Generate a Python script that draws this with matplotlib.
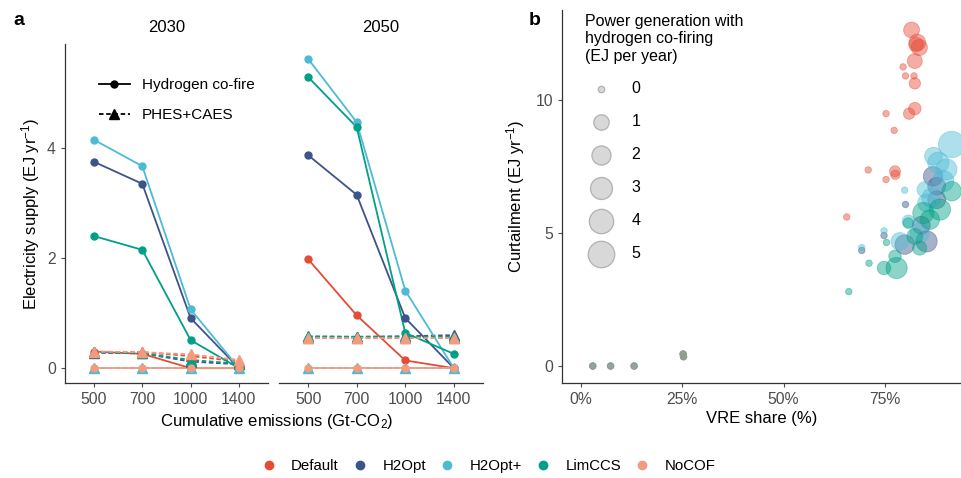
import matplotlib
matplotlib.use("Agg")
import matplotlib.pyplot as plt
from matplotlib.lines import Line2D
import numpy as np

plt.rcParams["font.family"] = ["Liberation Sans", "DejaVu Sans"]
plt.rcParams["mathtext.default"] = "regular"

SCENARIOS = ["Default", "H2Opt", "H2Opt+", "LimCCS", "NoCOF"]
COLORS = {
    "Default": "#E64B35",
    "H2Opt": "#3C5488",
    "H2Opt+": "#4DBBD5",
    "LimCCS": "#00A087",
    "NoCOF": "#F39B7F",
}

EMISSIONS = ["500", "700", "1000", "1400"]

# panel a: electricity supply (EJ/yr)
cofire_2030 = {
    "Default": [0.30, 0.26, 0.0, 0.0],
    "H2Opt": [3.75, 3.35, 0.91, 0.0],
    "H2Opt+": [4.15, 3.67, 1.07, 0.0],
    "LimCCS": [2.40, 2.15, 0.51, 0.0],
    "NoCOF": [0.0, 0.0, 0.0, 0.0],
}
phes_2030 = {
    "Default": [0.30, 0.29, 0.22, 0.12],
    "H2Opt": [0.28, 0.27, 0.12, 0.07],
    "H2Opt+": [0.0, 0.0, 0.0, 0.0],
    "LimCCS": [0.29, 0.27, 0.15, 0.08],
    "NoCOF": [0.30, 0.29, 0.25, 0.15],
}
cofire_2050 = {
    "Default": [1.98, 0.96, 0.14, 0.0],
    "H2Opt": [3.87, 3.15, 0.91, 0.0],
    "H2Opt+": [5.62, 4.47, 1.41, 0.0],
    "LimCCS": [5.29, 4.38, 0.64, 0.26],
    "NoCOF": [0.0, 0.0, 0.0, 0.0],
}
phes_2050 = {
    "Default": [0.55, 0.55, 0.55, 0.55],
    "H2Opt": [0.57, 0.57, 0.58, 0.60],
    "H2Opt+": [0.0, 0.0, 0.0, 0.0],
    "LimCCS": [0.58, 0.57, 0.57, 0.57],
    "NoCOF": [0.55, 0.55, 0.55, 0.55],
}

# panel b: base-year points shared by all scenarios
base_vre = [2.9, 7.3, 13.1, 25.2, 25.3]
base_curt = [0.0, 0.0, 0.0, 0.45, 0.35]

vre = {
    "Default": [81.6, 83.0, 83.5, 82.7, 82.4, 79.5, 80.1, 82.2, 82.4, 82.4, 81.0, 77.5, 77.6,
                75.3, 77.3, 70.9, 75.3, 65.6],
    "H2Opt": [86.9, 87.8, 87.8, 80.1, 74.8, 79.9, 85.3, 69.3, 84.0],
    "H2Opt+": [91.5, 88.2, 90.2, 89.4, 86.5, 84.9, 85.3, 79.9, 80.8, 74.8, 78.7, 83.6, 69.3, 87.0],
    "LimCCS": [91.5, 88.6, 84.5, 86.1, 80.8, 75.4, 82.4, 83.6, 71.1, 74.8, 77.9, 77.5, 66.1],
    "NoCOF": [],
}
curtail = {
    "Default": [12.65, 12.18, 11.99, 12.10, 11.48, 11.26, 10.92, 10.92, 10.64, 9.69, 9.50, 7.33, 7.20,
                9.50, 8.87, 7.38, 7.02, 5.61],
    "H2Opt": [7.14, 6.77, 6.26, 6.08, 4.91, 4.57, 4.69, 4.35, 5.30],
    "H2Opt+": [8.34, 7.65, 7.40, 6.96, 6.33, 6.64, 6.14, 6.62, 5.45, 5.09, 4.69, 5.01, 4.46, 7.90],
    "LimCCS": [6.58, 5.89, 5.76, 5.51, 5.38, 4.65, 4.88, 4.44, 3.87, 3.69, 3.69, 4.13, 2.80],
    "NoCOF": [],
}
h2_gen = {
    "Default": [1.1, 1.3, 1.2, 0.8, 0.9, 0.0, 0.0, 0.0, 0.3, 0.45, 0.3, 0.25, 0.1,
                0.0, 0.0, 0.0, 0.0, 0.0],
    "H2Opt": [2.1, 1.6, 1.6, 0.0, 0.0, 2.1, 2.7, 0.0, 1.6],
    "H2Opt+": [5.0, 2.7, 2.7, 2.7, 2.1, 1.1, 1.6, 0.0, 0.45, 0.0, 1.6, 2.1, 0.0, 1.6],
    "LimCCS": [2.1, 2.7, 2.7, 2.1, 0.22, 0.0, 1.1, 0.74, 0.0, 0.62, 2.7, 0.45, 0.0],
    "NoCOF": [],
}
SIZE_BREAKS = [0, 1, 2, 3, 4, 5]


def bubble(v):
    d_px = 6.5 + 20 * np.sqrt(np.asarray(v, dtype=float) / 5)
    return (d_px * 0.72) ** 2


fig = plt.figure(figsize=(9.61, 4.78), dpi=100)
fig.patch.set_facecolor("white")

ax30 = fig.add_axes([0.0676, 0.1987, 0.2112, 0.7092])
ax50 = fig.add_axes([0.2903, 0.1987, 0.2123, 0.7092])
axb = fig.add_axes([0.5848, 0.1987, 0.4152, 0.7803])

xpos = np.arange(1, len(EMISSIONS) + 1)
for ax, cof, phes, year in [(ax30, cofire_2030, phes_2030, "2030"),
                            (ax50, cofire_2050, phes_2050, "2050")]:
    for s in SCENARIOS:
        ax.plot(xpos, phes[s], color=COLORS[s], lw=1.3, ls=(0, (2.5, 1.5)), zorder=2)
        ax.plot(xpos, cof[s], color=COLORS[s], lw=1.3, zorder=2)
    for s in SCENARIOS:
        ax.plot(xpos, phes[s], ls="none", marker="^", ms=6.5, color=COLORS[s], zorder=3)
        ax.plot(xpos, cof[s], ls="none", marker="o", ms=5, color=COLORS[s], zorder=3)
    ax.set_xlim(0.4, 4.6)
    ax.set_ylim(-0.27, 5.89)
    ax.set_xticks(xpos)
    ax.set_xticklabels(EMISSIONS)
    ax.set_title(year, fontsize=12, pad=9)
    for sp in ("top", "right"):
        ax.spines[sp].set_visible(False)

ax30.set_yticks([0, 2, 4])
ax50.set_yticks([])
ax50.spines["left"].set_visible(False)
ax30.set_ylabel("Electricity supply (EJ yr$^{-1}$)", fontsize=12, labelpad=4)
fig.text(0.2878, 0.118, "Cumulative emissions (Gt-CO$_2$)", ha="center", va="center", fontsize=12)

style_handles = [
    Line2D([], [], color="black", lw=1.3, marker="o", ms=5),
    Line2D([], [], color="black", lw=1.3, ls=(0, (2.5, 1.5)), marker="^", ms=6.5),
]
ax30.legend(style_handles, ["Hydrogen co-fire", "PHES+CAES"], loc="upper left",
            bbox_to_anchor=(0.1, 0.94), frameon=False, fontsize=11,
            handlelength=2.0, handletextpad=0.8, labelspacing=1.05)

# panel b
for s in SCENARIOS:
    axb.scatter(base_vre, base_curt, s=bubble(np.zeros(len(base_vre))), color=COLORS[s],
                alpha=0.3, linewidths=0.6, zorder=2)
for s in SCENARIOS:
    if vre[s]:
        axb.scatter(vre[s], curtail[s], s=bubble(h2_gen[s]), color=COLORS[s],
                    alpha=0.45, linewidths=0.6, zorder=3)

axb.set_xlim(-4.7, 93.8)
axb.set_ylim(-0.64, 13.4)
axb.set_xticks([0, 25, 50, 75])
axb.set_xticklabels(["0%", "25%", "50%", "75%"])
axb.set_yticks([0, 5, 10])
axb.set_xlabel("VRE share (%)", fontsize=12, labelpad=3)
axb.set_ylabel("Curtailment (EJ yr$^{-1}$)", fontsize=12, labelpad=6)
for sp in ("top", "right"):
    axb.spines[sp].set_visible(False)

size_handles = [axb.scatter([], [], s=bubble(v), color="#C8C8C8", alpha=0.7,
                            edgecolor="#9A9A9A", linewidths=0.9) for v in SIZE_BREAKS]
axb.legend(size_handles, [str(v) for v in SIZE_BREAKS], loc="upper left",
           bbox_to_anchor=(0.03, 1.02), frameon=False, fontsize=11.5,
           title="Power generation with\nhydrogen co-firing\n(EJ per year)",
           title_fontsize=11.5, alignment="left", labelspacing=1.12,
           handletextpad=0.9, borderpad=0.2)

for ax in (ax30, ax50, axb):
    ax.tick_params(axis="both", labelsize=11.3, colors="#4D4D4D", length=3, width=0.8)
    for sp in ax.spines.values():
        sp.set_color("#333333")
        sp.set_linewidth(0.9)
    ax.set_facecolor("white")

fig.text(0.014, 0.958, "a", fontsize=14, fontweight="bold", ha="left", va="center")
fig.text(0.550, 0.958, "b", fontsize=14, fontweight="bold", ha="left", va="center")

scen_handles = [Line2D([], [], ls="none", marker="o", ms=6, color=COLORS[s]) for s in SCENARIOS]
fig.legend(scen_handles, SCENARIOS, loc="center", bbox_to_anchor=(0.508, 0.025), ncol=5,
           frameon=False, fontsize=10.8, handlelength=1.0, handletextpad=1.0, columnspacing=0.9)

fig.savefig("out.png", dpi=100, facecolor="white")
